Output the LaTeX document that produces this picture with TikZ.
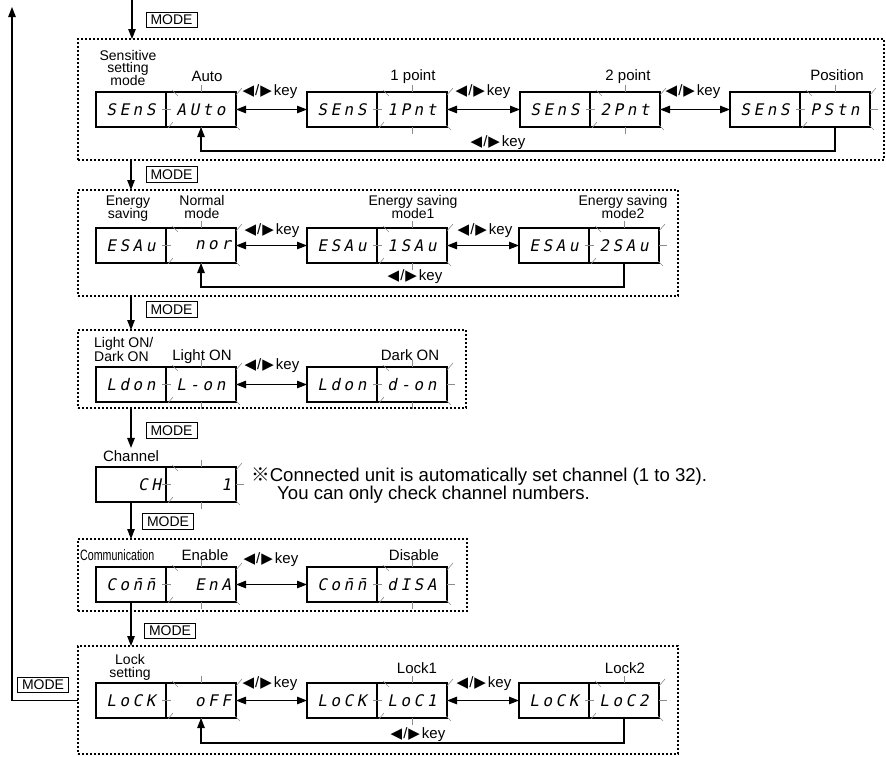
\documentclass[tikz,border=0pt]{standalone}
\usepackage{fontspec}
\usepackage{graphicx}
\setmainfont{Liberation Sans}
\newfontfamily\symfont{DejaVu Sans}
\newfontfamily\segfont[FakeSlant=0.2,LetterSpace=22]{DejaVu Sans Mono}
\newfontfamily\cjkfont{Noto Sans CJK JP}
\usetikzlibrary{arrows.meta,calc}

\newcommand\keylab{{\symfont\char"25C0}\kern1pt/\kern1pt{\symfont\char"25B6}\kern2pt key}

\tikzset{
  seg/.style={draw, line width=1.4pt, minimum height=35pt, text width=60pt, inner xsep=5pt,
    inner ysep=0pt, outer sep=0pt, align=center, anchor=north west,
    font=\segfont\fontsize{16}{16}\selectfont},
  ray/.style={draw=black!45, line width=0.6pt},
  dbox/.style={draw, line width=1.8pt, dash pattern=on 1.8pt off 2.2pt, anchor=north west,
    inner sep=0pt, outer sep=0pt},
  arr/.style={line width=1.2pt, -{Triangle[length=10pt,width=7.5pt]}},
  darr/.style={line width=1.2pt, {Triangle[length=10pt,width=7.5pt]}-{Triangle[length=10pt,width=7.5pt]}},
  lbl/.style={font=\fontsize{15}{15}\selectfont, inner sep=0pt, anchor=base},
  slbl/.style={font=\fontsize{14}{14}\selectfont, inner sep=0pt, anchor=base},
  keyl/.style={font=\fontsize{15}{15}\selectfont, inner sep=0pt, anchor=base},
  modebox/.style={draw, line width=0.7pt, font=\fontsize{14}{14}\selectfont,
    minimum width=51pt, minimum height=15.5pt, inner sep=0pt},
  notetext/.style={font=\fontsize{18.6}{18.6}\selectfont, inner sep=0pt, anchor=base west},
}

\newcommand\rays[1]{%
  \draw[ray] ($(#1.north west)+(6,-2)$) -- ++(6,6);
  \draw[ray] ($(#1.north east)+(0,3)$) -- ++(6,-7);
  \draw[ray] ($(#1.south west)+(2,1)$) -- ++(5,-6);
  \draw[ray] ($(#1.south east)+(-1,-2)$) -- ++(5,5);
  \draw[ray] ($(#1.north)+(0,-7)$) -- (#1.north);
  \draw[ray] (#1.south) -- ++(0,7);
  \draw[ray] ($(#1.west)+(-4,0)$) -- ++(9,0);
  \draw[ray] (#1.east) -- ++(8,0);
}
% name, x, y, left align, left text, right align, right text
\newcommand\dsp[7]{%
  \node[seg, align=#4] (#1l) at (#2,#3) {#5};
  \node[seg, align=#6] (#1r) at (#2+70,#3) {#7};
  \rays{#1r}
}

\begin{document}
\begin{tikzpicture}[x=1pt,y=-1pt]
\useasboundingbox (0,0) rectangle (886,756);

% dotted frames
\node[dbox, minimum width=806pt, minimum height=121pt] (S1) at (78,39) {};
\node[dbox, minimum width=600pt, minimum height=106pt] (S2) at (78,190) {};
\node[dbox, minimum width=388pt, minimum height=78pt] (S3) at (78,330) {};
\node[dbox, minimum width=389pt, minimum height=72pt] (S5) at (78,539) {};
\node[dbox, minimum width=600pt, minimum height=108pt] (S6) at (78,646) {};

% ---------- row 1: sensitive setting
\dsp{a}{96}{92}{center}{SEnS}{center}{AUto}
\dsp{b}{307}{92}{center}{SEnS}{center}{1Pnt}
\dsp{c}{520}{92}{center}{SEnS}{center}{2Pnt}
\dsp{d}{730}{92}{center}{SEnS}{center}{PStn}
\node[slbl] (t1a) at (128,60) {Sensitive};
\node[slbl] (t1b) at (128,72.5) {setting};
\node[slbl] (t1c) at (128,85) {mode};
\node[lbl] (t1d) at (207,81) {Auto};
\node[lbl] (t1e) at (413,80) {1 point};
\node[lbl] (t1f) at (628,80) {2 point};
\node[lbl] (t1g) at (837,80) {Position};
\node[keyl] (k1a) at (270,95) {\keylab};
\node[keyl] (k1b) at (483,95) {\keylab};
\node[keyl] (k1c) at (693,95) {\keylab};
\node[keyl] (k1d) at (498,146) {\keylab};
\draw[darr] (ar.east) -- (bl.west);
\draw[darr] (br.east) -- (cl.west);
\draw[darr] (cr.east) -- (dl.west);
\draw[arr] (dr.south) -- ++(0,24) -| (ar.south);

% ---------- row 2: energy saving
\dsp{e}{96}{228}{center}{ESAu}{right}{nor}
\dsp{f}{307}{228}{center}{ESAu}{center}{1SAu}
\dsp{g}{519}{228}{center}{ESAu}{center}{2SAu}
\node[slbl] (t2a) at (128,205) {Energy};
\node[slbl] (t2b) at (128,218) {saving};
\node[slbl] (t2c) at (202,205) {Normal};
\node[slbl] (t2d) at (202,218) {mode};
\node[slbl] (t2e) at (413,205) {Energy saving};
\node[slbl] (t2f) at (413,218) {mode1};
\node[slbl] (t2g) at (623,205) {Energy saving};
\node[slbl] (t2h) at (623,218) {mode2};
\node[keyl] (k2a) at (272,234) {\keylab};
\node[keyl] (k2b) at (485,234) {\keylab};
\node[keyl] (k2c) at (415,280) {\keylab};
\draw[darr] (er.east) -- (fl.west);
\draw[darr] (fr.east) -- (gl.west);
\draw[arr] (gr.south) -- ++(0,24) -| (er.south);

% ---------- row 3: light on / dark on
\dsp{h}{96}{367}{center}{Ldon}{center}{L-on}
\dsp{i}{307}{367}{center}{Ldon}{center}{d-on}
\node[slbl, anchor=base west] (t3a) at (94,347) {Light ON/};
\node[slbl, anchor=base west] (t3b) at (94,361) {Dark ON};
\node[lbl] (t3c) at (202,360) {Light ON};
\node[lbl] (t3d) at (410,360) {Dark ON};
\node[keyl] (k3a) at (272,369) {\keylab};
\draw[darr] (hr.east) -- (il.west);

% ---------- row 4: channel
\dsp{j}{96}{467}{right}{CH}{right}{1}
\node[lbl] (t4a) at (131,461) {Channel};
\node[notetext] (n1) at (251,481) {{\cjkfont ※}Connected unit is automatically set channel (1 to 32).};
\node[notetext] (n2) at (277,499) {You can only check channel numbers.};

% ---------- row 5: communication
\dsp{k}{96}{567}{center}{Co\=n\=n}{right}{EnA}
\dsp{l}{307}{567}{center}{Co\=n\=n}{center}{dISA}
\node[lbl, anchor=base west] (t5a) at (80,560) {\scalebox{0.71}[1]{Communication}};
\node[lbl] (t5b) at (205,560) {Enable};
\node[lbl] (t5c) at (414,560) {Disable};
\node[keyl] (k5a) at (271,563) {\keylab};
\draw[darr] (kr.east) -- (ll.west);

% ---------- row 6: lock
\dsp{m}{96}{683}{center}{LoCK}{right}{oFF}
\dsp{n}{307}{683}{center}{LoCK}{center}{LoC1}
\dsp{o}{519}{683}{center}{LoCK}{center}{LoC2}
\node[slbl] (t6a) at (130,664) {Lock};
\node[slbl] (t6b) at (130,677) {setting};
\node[lbl] (t6c) at (417,673) {Lock1};
\node[lbl] (t6d) at (625,673) {Lock2};
\node[keyl] (k6a) at (270,687) {\keylab};
\node[keyl] (k6b) at (484,687) {\keylab};
\node[keyl] (k6c) at (418,738) {\keylab};
\draw[darr] (mr.east) -- (nl.west);
\draw[darr] (nr.east) -- (ol.west);
\draw[arr] (or.south) -- ++(0,25) -| (mr.south);

% ---------- MODE flow
\coordinate (c0) at (132,0);
\coordinate (rtop) at (12,7);
\node[modebox] (m1) at (171.5,20) {MODE};
\node[modebox] (m2) at (171.5,174.5) {MODE};
\node[modebox] (m3) at (171.5,309.5) {MODE};
\node[modebox] (m4) at (171.5,430.5) {MODE};
\node[modebox] (m5) at (168,521.5) {MODE};
\node[modebox] (m6) at (170,631) {MODE};
\node[modebox] (m7) at (43,685) {MODE};
\draw[arr] (c0) -- (c0 |- S1.north);
\draw[arr] (al.south |- S1.south) -- (al.south |- S2.north);
\draw[arr] (al.south |- S2.south) -- (al.south |- S3.north);
\draw[arr, shorten >=2pt] (al.south |- S3.south) -- (t4a.north);
\draw[arr] (jl.south) -- (jl.south |- S5.north);
\draw[arr] (kl.south) -- (kl.south |- S6.north);
\draw[arr] (S6.west |- ml.east) -| (rtop);
\end{tikzpicture}
\end{document}
